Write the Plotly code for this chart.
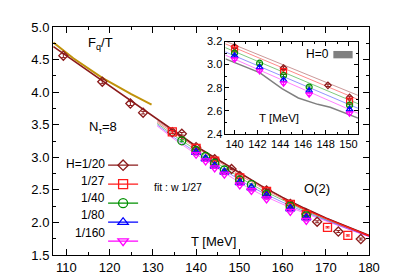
import plotly.graph_objects as go

# ---------------- data ----------------
# H = 1/20 (diamonds)
T_h20 = [109.3, 118.3, 124.8, 127.75, 134.5, 136.7, 140.0, 144.3, 148.2, 150.1, 156.3, 161.8, 165.5, 168.0, 172.9, 178.1]
F_h20 = [4.56, 4.16, 3.825, 3.685, 3.385, 3.36, 3.155, 2.97, 2.82, 2.715, 2.49, 2.285, 2.13, 2.01, 1.86, 1.745]
E_h20 = [0.03, 0.03, 0.03, 0.02, 0.02, 0.02, 0.012, 0.012, 0.01, 0.01, 0.015, 0.015, 0.015, 0.015, 0.015, 0.015]
# H = 1/27 (squares)
T_h27 = [134.5, 140.0, 144.3, 150.1, 156.3, 161.8, 165.5, 170.4, 175.1]
F_h27 = [3.39, 3.137, 2.94, 2.683, 2.475, 2.275, 2.12, 1.925, 1.80]
E_h27 = [0.02, 0.012, 0.01, 0.01, 0.015, 0.015, 0.015, 0.01, 0.01]
# H = 1/40 (circles)
T_h40 = [136.7, 140.0, 142.2, 144.3, 146.55, 150.1, 152.8, 156.3, 161.8, 165.5]
F_h40 = [3.253, 3.10, 3.012, 2.905, 2.805, 2.648, 2.58, 2.43, 2.245, 2.10]
E_h40 = [0.015, 0.01, 0.01, 0.01, 0.01, 0.01, 0.01, 0.01, 0.01, 0.01]
# H = 1/80 (triangles up)
T_h80 = [140.0, 142.2, 144.3, 146.55, 150.1, 152.8, 156.3, 161.8, 165.5]
F_h80 = [3.076, 2.975, 2.865, 2.773, 2.61, 2.53, 2.41, 2.21, 2.07]
E_h80 = [0.01, 0.01, 0.01, 0.01, 0.01, 0.01, 0.01, 0.01, 0.01]
# H = 1/160 (triangles down)
T_h160 = [140.0, 142.2, 144.3, 146.55, 150.1, 152.8, 156.3, 161.8, 165.5]
F_h160 = [3.046, 2.945, 2.838, 2.742, 2.577, 2.49, 2.36, 2.17, 2.03]
E_h160 = [0.01, 0.01, 0.01, 0.01, 0.01, 0.01, 0.01, 0.01, 0.01]

# low-temperature curve (gold)
T_gold = [107, 111.6, 118.3, 125, 129.7]
F_gold = [4.76, 4.52, 4.22, 3.97, 3.81]
# global fit curve (dark red)
T_fit = [107, 112, 118, 124, 130, 135, 140, 145, 150, 155, 160, 165, 170, 175, 180]
F_fit = [4.70, 4.47, 4.19, 3.91, 3.64, 3.40, 3.17, 2.966, 2.76, 2.565, 2.385, 2.22, 2.07, 1.93, 1.80]
# fit curves for each H
T_fan = [131, 135, 139.2, 142, 145, 148, 150.85, 155, 160, 165, 170, 175, 180]
fan_h20 = [3.56, 3.38, 3.203, 3.09, 2.966, 2.845, 2.726, 2.565, 2.385, 2.22, 2.07, 1.93, 1.80]
fan_h27 = [3.54, 3.36, 3.18, 3.065, 2.94, 2.815, 2.697, 2.54, 2.365, 2.205, 2.06, 1.925, 1.795]
fan_h40 = [3.52, 3.33, 3.147, 3.03, 2.905, 2.78, 2.66, 2.505, 2.34, 2.185, 2.045, 1.915, 1.79]
fan_h80 = [3.50, 3.30, 3.11, 2.99, 2.866, 2.74, 2.62, 2.47, 2.31, 2.165, 2.03, 1.905, 1.785]
fan_h160 = [3.48, 3.275, 3.082, 2.96, 2.83, 2.70, 2.577, 2.43, 2.28, 2.145, 2.02, 1.895, 1.78]
# H = 0 curve (inset)
T_h0 = [139.2, 142.2, 144.2, 145.6, 147.3, 148.4, 150.85]
F_h0 = [3.05, 2.93, 2.79, 2.71, 2.655, 2.63, 2.535]

labels = ["H=1/20", "1/27", "1/40", "1/80", "1/160"]

# ---------------- styles ----------------
FONT = "Liberation Sans, Arial, Helvetica, sans-serif"
colors = ["#8B1A1A", "#FF1A1A", "#009000", "#0000FF", "#FF00FF"]
pale = ["rgba(139,26,26,0.45)", "rgba(255,40,40,0.55)", "rgba(0,150,0,0.5)",
        "rgba(40,40,255,0.5)", "rgba(255,0,255,0.5)"]
symbols = ["diamond-open", "square-open", "circle-open", "triangle-up-open", "triangle-down-open"]
msize_main = [7, 8, 8, 8, 8]
msize_inset = [5, 6, 6, 6, 6]

series = [(T_h20, F_h20, E_h20), (T_h27, F_h27, E_h27), (T_h40, F_h40, E_h40),
          (T_h80, F_h80, E_h80), (T_h160, F_h160, E_h160)]
fans = [fan_h20, fan_h27, fan_h40, fan_h80, fan_h160]

fig = go.Figure()

# fit lines (main panel)
for i, f in enumerate(fans):
    fig.add_trace(go.Scatter(x=T_fan, y=f, mode="lines", line=dict(color=pale[i], width=1),
                             showlegend=False, hoverinfo="skip", xaxis="x", yaxis="y"))
fig.add_trace(go.Scatter(x=T_gold, y=F_gold, mode="lines", line=dict(color="#C0920A", width=2),
                         showlegend=False, xaxis="x", yaxis="y"))
fig.add_trace(go.Scatter(x=T_fit, y=F_fit, mode="lines", line=dict(color="#8B1A1A", width=1.6),
                         showlegend=False, xaxis="x", yaxis="y"))
fig.add_trace(go.Scatter(x=T_fan[8:], y=fan_h27[8:], mode="lines", line=dict(color="#FF1A1A", width=1.3),
                         showlegend=False, xaxis="x", yaxis="y"))

# data (main panel)
for i, (t, f, e) in enumerate(series):
    fig.add_trace(go.Scatter(
        x=t, y=f, mode="markers",
        marker=dict(symbol=symbols[i], size=msize_main[i], color=colors[i], line=dict(width=1.3, color=colors[i])),
        error_y=dict(type="data", array=e, visible=True, color=colors[i], thickness=1, width=2),
        showlegend=False, xaxis="x", yaxis="y"))

# inset
fig.add_trace(go.Scatter(x=T_h0, y=F_h0, mode="lines", line=dict(color="#808080", width=1.5),
                         showlegend=False, xaxis="x2", yaxis="y2"))
for i, f in enumerate(fans):
    fig.add_trace(go.Scatter(x=T_fan, y=f, mode="lines", line=dict(color=pale[i], width=1),
                             showlegend=False, xaxis="x2", yaxis="y2"))
for i, (t, f, e) in enumerate(series):
    fig.add_trace(go.Scatter(
        x=t, y=f, mode="markers",
        marker=dict(symbol=symbols[i], size=msize_inset[i], color=colors[i], line=dict(width=1.2, color=colors[i])),
        error_y=dict(type="data", array=e, visible=True, color=colors[i], thickness=1, width=2),
        showlegend=False, xaxis="x2", yaxis="y2"))

# legend keys (labels are drawn as right-aligned annotations)
for i in range(5):
    fig.add_trace(go.Scatter(
        x=[None], y=[None], mode="lines+markers", name=" ",
        line=dict(color=colors[i], width=1.3),
        marker=dict(symbol=symbols[i], size=msize_main[i] + 1, color=colors[i], line=dict(width=1.3, color=colors[i])),
        xaxis="x", yaxis="y"))

# ---------------- layout ----------------
L, R, T, B = 45, 37, 16, 28
W, H = 398, 279
pw, ph = 328, H - T - B


def px(xp):
    return (xp - L) / pw


def py(yp):
    return (H - B - yp) / ph


axis_common = dict(showline=True, linecolor="black", linewidth=1, mirror="allticks", ticks="inside",
                   tickcolor="black", showgrid=False, zeroline=False)

fig.update_layout(
    width=W, height=H,
    margin=dict(l=L, r=R, t=T, b=B),
    paper_bgcolor="white", plot_bgcolor="white",
    font=dict(family=FONT, size=13, color="black"),
    xaxis=dict(range=[106.9, 180], tickvals=[110, 120, 130, 140, 150, 160, 170, 180], ticklen=6,
               minor=dict(dtick=5, tick0=105, ticklen=3, ticks="inside", tickcolor="black"),
               tickfont=dict(size=13), **axis_common),
    yaxis=dict(range=[1.5, 5.0], dtick=0.5, tick0=1.5, tickformat=".1f", ticklen=6,
               minor=dict(dtick=0.25, ticklen=3, ticks="inside", tickcolor="black"),
               tickfont=dict(size=13), **axis_common),
    xaxis2=dict(domain=[px(224), px(361.7)], anchor="y2", range=[139.2, 150.85], dtick=2, tick0=140,
                ticklen=4, minor=dict(dtick=1, ticklen=2, ticks="inside", tickcolor="black"),
                tickfont=dict(size=11), **axis_common),
    yaxis2=dict(domain=[py(126), py(31)], anchor="x2", range=[2.4, 3.2], dtick=0.2, tick0=2.4,
                tickformat=".1f", ticklen=4, minor=dict(dtick=0.1, ticklen=2, ticks="inside", tickcolor="black"),
                tickfont=dict(size=11), **axis_common),
    legend=dict(x=px(97), y=py(143.5), xanchor="left", yanchor="top", bgcolor="rgba(0,0,0,0)",
                font=dict(size=10), tracegroupgap=0, itemwidth=30),
    showlegend=True,
)

ann = [
    dict(text="F<sub>q</sub>/T", x=px(79), y=py(33), size=13, xanchor="left"),
    dict(text="N<sub>τ</sub>=8", x=px(80), y=py(120), size=13, xanchor="left"),
    dict(text="fit : w 1/27", x=px(148), y=py(181), size=10.5, xanchor="left"),
    dict(text="O(2)", x=px(303), y=py(182), size=13, xanchor="left"),
    dict(text="T [MeV]", x=px(186), y=py(237), size=13, xanchor="left"),
    dict(text="T [MeV]", x=px(257), y=py(110), size=11.5, xanchor="left"),
    dict(text="H=0", x=px(306), y=py(44), size=12, xanchor="left"),
]
for a in ann:
    fig.add_annotation(text=a["text"], x=a["x"], y=a["y"], xref="paper", yref="paper",
                       xanchor=a["xanchor"], yanchor="middle", showarrow=False,
                       font=dict(size=a["size"], family=FONT, color="black"))

leg_y = [156.7, 174.3, 192, 210, 228.3]
for lab, yy in zip(labels, leg_y):
    fig.add_annotation(text=lab, x=px(101), y=py(yy), xref="paper", yref="paper",
                       xanchor="right", yanchor="middle", showarrow=False,
                       font=dict(size=12, family=FONT, color="black"))

fig.add_shape(type="rect", xref="paper", yref="paper", x0=px(336), x1=px(356), y0=py(48.3), y1=py(40.7),
              fillcolor="#808080", line=dict(width=0))

fig.write_html("out.html", config={"displayModeBar": False})
